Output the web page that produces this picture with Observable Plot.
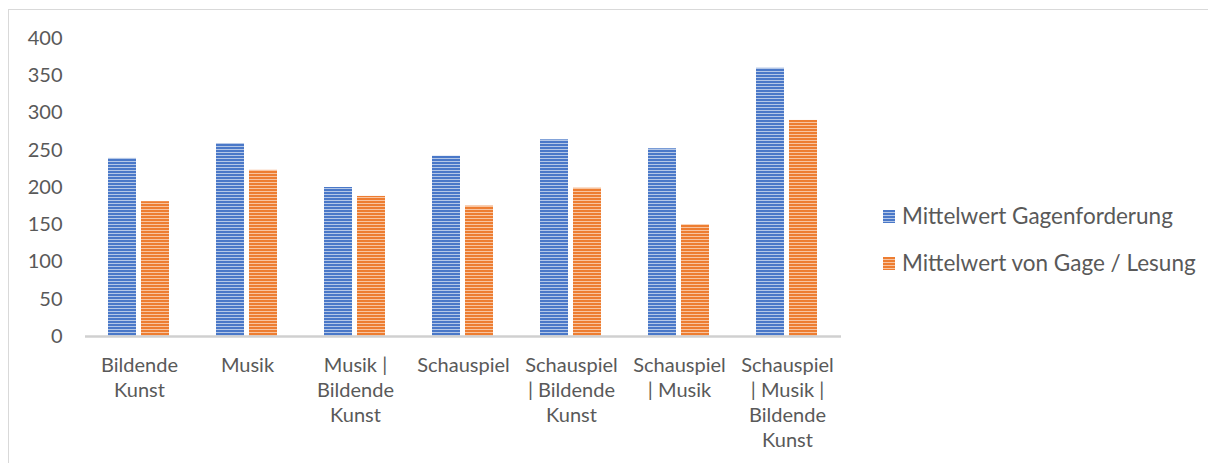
<!DOCTYPE html>
<html>
<head>
<meta charset="utf-8">
<script src="https://cdn.jsdelivr.net/npm/d3@7"></script>
<script src="https://cdn.jsdelivr.net/npm/@observablehq/plot@0.6"></script>
<style>
  html, body { margin: 0; padding: 0; background: #fff; }
  #wrap { position: relative; width: 1208px; height: 463px; overflow: hidden; font-family: Lato, "Open Sans", sans-serif; }
  #frame { position: absolute; left: 8px; top: 9px; width: 1220px; height: 480px; border: 1px solid #d9d9d9; box-sizing: border-box; }
  #chart { position: absolute; left: 0; top: 0; }
  .legend { position: absolute; left: 883px; color: #595959; font-size: 22.5px; line-height: 22px; display: flex; align-items: center; white-space: nowrap; }
  .sw { width: 12px; height: 13px; margin-right: 7px; }
</style>
</head>
<body>
<div id="wrap">
  <div id="frame"></div>
  <div id="chart"></div>
</div>
<script>
// Kategorien der Sparten und ihre Achsenbeschriftungen (mit Zeilenumbrüchen)
const categories = ["Bildende Kunst", "Musik", "Musik | Bildende Kunst", "Schauspiel", "Schauspiel | Bildende Kunst", "Schauspiel | Musik", "Schauspiel | Musik | Bildende Kunst"];
const categoryLabels = ["Bildende\nKunst", "Musik", "Musik |\nBildende\nKunst", "Schauspiel", "Schauspiel\n| Bildende\nKunst", "Schauspiel\n| Musik", "Schauspiel\n| Musik |\nBildende\nKunst"];
const seriesNames = ["Mittelwert Gagenforderung", "Mittelwert von Gage / Lesung"];
const gagenforderung = [239, 259, 200, 242, 264, 252, 360];
const gageLesung = [181, 223, 188, 175, 199, 150, 290];
const yTicks = [0, 50, 100, 150, 200, 250, 300, 350, 400];

const rows = [
  ...categories.map((c, i) => ({category: c, series: seriesNames[0], value: gagenforderung[i]})),
  ...categories.map((c, i) => ({category: c, series: seriesNames[1], value: gageLesung[i]}))
];
const labelOf = new Map(categories.map((c, i) => [c, categoryLabels[i]]));

const textColor = "#595959";

const svg = Plot.plot({
  width: 860,
  height: 463,
  marginLeft: 85,
  marginRight: 19,
  marginTop: 38,
  marginBottom: 127,
  style: {fontFamily: "Lato, 'Open Sans', sans-serif", fontSize: "20px", color: textColor, background: "transparent", overflow: "visible"},
  fx: {domain: categories, padding: 0, label: null},
  x: {domain: seriesNames, axis: null, paddingInner: 0.15, paddingOuter: 0.69},
  y: {domain: [0, 400], label: null},
  marks: [
    Plot.axisY({ticks: yTicks, tickSize: 0, tickPadding: 23, label: null, fill: textColor}),
    Plot.axisFx({anchor: "bottom", tickSize: 0, tickPadding: 18, label: null, lineHeight: 1.25, fill: textColor, tickFormat: d => labelOf.get(d)}),
    Plot.barY(rows.filter(d => d.series === seriesNames[0]), {fx: "category", x: "series", y: "value", fill: "url(#stripeBlue)"}),
    Plot.barY(rows.filter(d => d.series === seriesNames[1]), {fx: "category", x: "series", y: "value", fill: "url(#stripeOrange)"}),
    Plot.ruleY([0], {stroke: "#d0d0d0", strokeWidth: 2.5})
  ]
});

// Streifenmuster für die Balkenfüllung
const ns = "http://www.w3.org/2000/svg";
const defs = document.createElementNS(ns, "defs");
function stripe(id, dark, light) {
  const p = document.createElementNS(ns, "pattern");
  p.setAttribute("id", id);
  p.setAttribute("patternUnits", "userSpaceOnUse");
  p.setAttribute("width", 4);
  p.setAttribute("height", 3);
  const r1 = document.createElementNS(ns, "rect");
  r1.setAttribute("width", 4); r1.setAttribute("height", 3); r1.setAttribute("fill", dark);
  const r2 = document.createElementNS(ns, "rect");
  r2.setAttribute("y", 2); r2.setAttribute("width", 4); r2.setAttribute("height", 1); r2.setAttribute("fill", light);
  p.appendChild(r1); p.appendChild(r2);
  defs.appendChild(p);
}
stripe("stripeBlue", "#4a78c8", "#b4c7e7");
stripe("stripeOrange", "#ed7d31", "#f8c4a0");
svg.insertBefore(defs, svg.firstChild);
document.getElementById("chart").appendChild(svg);

// Legende rechts neben dem Diagramm
const legendColors = [["#4a78c8", "#b4c7e7"], ["#ed7d31", "#f8c4a0"]];
const legendTops = [205, 252];
seriesNames.forEach((name, i) => {
  const item = document.createElement("div");
  item.className = "legend";
  item.style.top = legendTops[i] + "px";
  const sw = document.createElement("span");
  sw.className = "sw";
  sw.style.background = `repeating-linear-gradient(to bottom, ${legendColors[i][0]} 0px, ${legendColors[i][0]} 2px, ${legendColors[i][1]} 2px, ${legendColors[i][1]} 3px)`;
  const t = document.createElement("span");
  t.textContent = name;
  item.appendChild(sw);
  item.appendChild(t);
  document.getElementById("wrap").appendChild(item);
});
</script>
</body>
</html>
